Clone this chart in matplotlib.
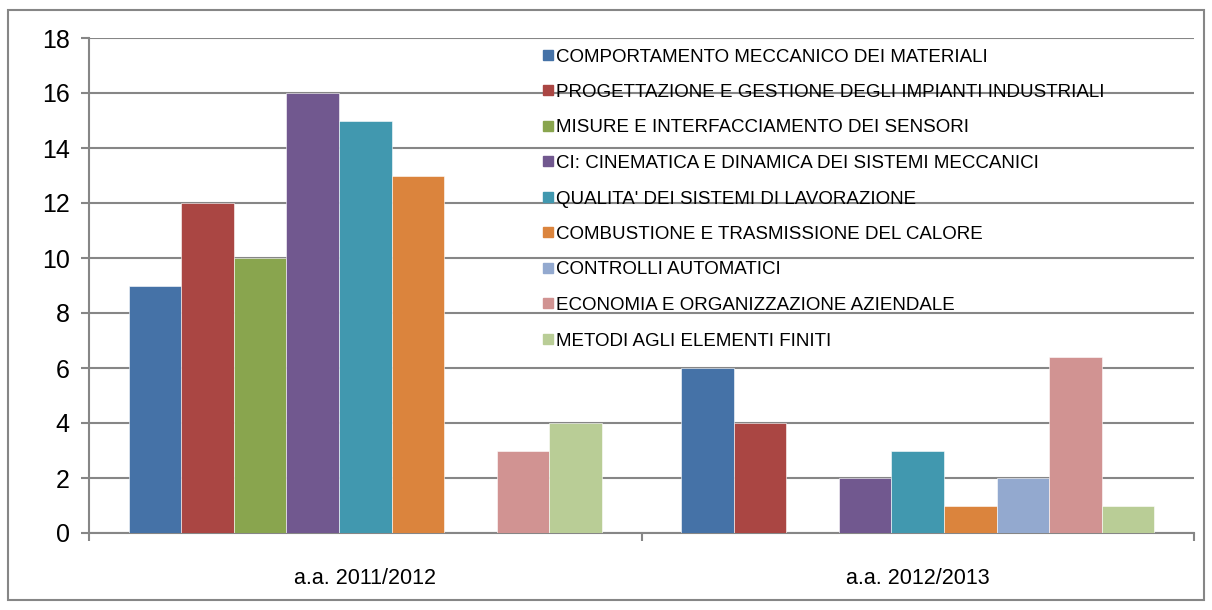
import matplotlib
matplotlib.use('Agg')
import matplotlib.pyplot as plt
import numpy as np
from matplotlib.patches import Rectangle
from matplotlib.lines import Line2D

# ---------------- data ----------------
years = ['a.a. 2011/2012', 'a.a. 2012/2013']
courses = [
    'COMPORTAMENTO MECCANICO DEI MATERIALI',
    'PROGETTAZIONE E GESTIONE DEGLI IMPIANTI INDUSTRIALI',
    'MISURE E INTERFACCIAMENTO DEI SENSORI',
    'CI: CINEMATICA E DINAMICA DEI SISTEMI MECCANICI',
    "QUALITA' DEI SISTEMI DI LAVORAZIONE",
    'COMBUSTIONE E TRASMISSIONE DEL CALORE',
    'CONTROLLI AUTOMATICI',
    'ECONOMIA E ORGANIZZAZIONE AZIENDALE',
    'METODI AGLI ELEMENTI FINITI',
]
vals_2011 = [9, 12, 10, 16, 15, 13, 0, 3, 4]
vals_2012 = [6, 4, 0, 2, 3, 1, 2, 6.4, 1]
colors = ['#4572A7', '#AA4643', '#89A54E', '#71588F', '#4198AF',
          '#DB843D', '#93A9CF', '#D19392', '#B9CD96']

plt.rcParams['font.family'] = ['Liberation Sans', 'DejaVu Sans']

GRID = '#868686'

fig = plt.figure(figsize=(12.12, 6.10), dpi=100)
ax = fig.add_axes([89 / 1212, 1 - 533 / 610, (1194 - 89) / 1212, (533 - 38) / 610])

# outer border of chart area
fig.patches.append(Rectangle((8 / 1212, 1 - 600 / 610), 1196 / 1212, 590 / 610,
                             transform=fig.transFigure, fill=False,
                             edgecolor=GRID, lw=1.5))

x = np.arange(len(years))
w = 0.0951
n = len(courses)
for i, (name, col) in enumerate(zip(courses, colors)):
    heights = [vals_2011[i], vals_2012[i]]
    ax.bar(x + (i - (n - 1) / 2) * w, heights, width=w, color=col,
           edgecolor='white', linewidth=0.4, zorder=3, label=name)

ax.set_xlim(-0.5, 1.5)
ax.set_ylim(0, 18)
ax.set_yticks(range(0, 19, 2))
ax.yaxis.grid(True, color=GRID, lw=1.5, zorder=0)
ax.set_axisbelow(True)

# category boundaries as major ticks, labels at group centres
ax.set_xticks([-0.5, 0.5, 1.5])
ax.set_xticklabels([])
ax.set_xticks(x, minor=True)
ax.set_xticklabels(years, minor=True, fontsize=15.5)
ax.tick_params(axis='x', which='major', length=6, color=GRID, width=1.5)
ax.tick_params(axis='x', which='minor', length=0, pad=25)
ax.tick_params(axis='y', length=6, color=GRID, width=1.5, labelsize=18, pad=8)

for s in ['top', 'right']:
    ax.spines[s].set_visible(False)
for s in ['left', 'bottom']:
    ax.spines[s].set_color(GRID)
    ax.spines[s].set_linewidth(1.5)

handles = [Line2D([], [], marker='s', ls='', markersize=7, color=c) for c in colors]
leg = ax.legend(handles, courses, loc='upper left',
                bbox_to_anchor=(533 / 1212, 1 - 39 / 610),
                bbox_transform=fig.transFigure, frameon=False,
                fontsize=13.5, handlelength=0.6, handletextpad=0.15,
                labelspacing=0.98, borderpad=0)

fig.savefig('out.png', dpi=100)
